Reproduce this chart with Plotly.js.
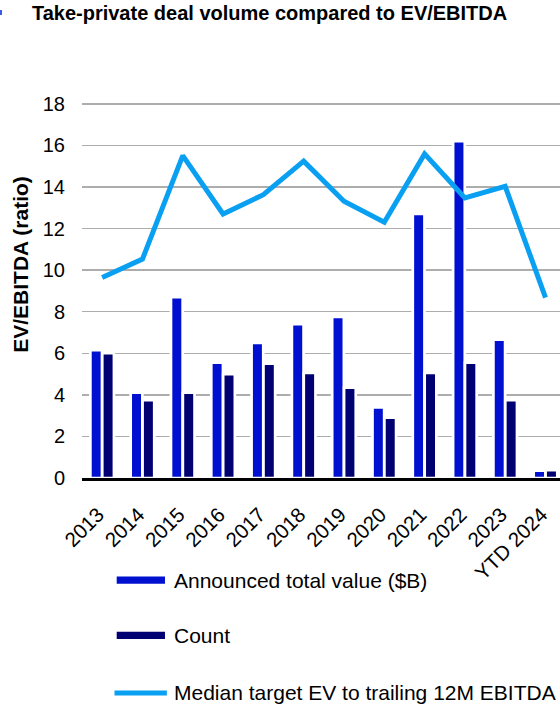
<!DOCTYPE html>
<html>
<head>
<meta charset="utf-8">
<script src="https://cdn.plot.ly/plotly-3.0.1.min.js"></script>
<style>
  html, body { margin: 0; padding: 0; background: #ffffff; overflow: hidden; }
  #chart { width: 560px; height: 704px; }
</style>
</head>
<body>
<div id="chart"></div>
<script>
// Categories and series
const years = ['2013', '2014', '2015', '2016', '2017', '2018', '2019', '2020', '2021', '2022', '2023', 'YTD 2024'];
const announcedValue = [6.15, 4.1, 8.7, 5.55, 6.5, 7.4, 7.75, 3.4, 12.7, 16.2, 6.65, 0.35];
const dealCount = [6.0, 3.75, 4.1, 5.0, 5.5, 5.05, 4.35, 2.9, 5.05, 5.55, 3.75, 0.38];
const medianEvEbitda = [9.64, 10.53, 15.51, 12.7, 13.63, 15.24, 13.31, 12.3, 15.59, 13.47, 14.03, 8.68];

// Axis ticks
const yTicks = [0, 2, 4, 6, 8, 10, 12, 14, 16, 18];

// Series names
const seriesNames = ['Announced total value ($B)', 'Count', 'Median target EV to trailing 12M EBITDA'];

const COLORS = { value: '#0010d0', count: '#000072', ratio: '#0aa0f2' };
const FONT = 'Liberation Sans, Arial, Helvetica, sans-serif';

const traces = [
  {
    type: 'bar', name: seriesNames[0], x: years, y: announcedValue,
    marker: { color: COLORS.value, line: { color: '#ffffff', width: 2.7 } },
    showlegend: false, hoverinfo: 'x+y'
  },
  {
    type: 'bar', name: seriesNames[1], x: years, y: dealCount,
    marker: { color: COLORS.count, line: { color: '#ffffff', width: 2.7 } },
    showlegend: false, hoverinfo: 'x+y'
  },
  {
    type: 'scatter', mode: 'lines', name: seriesNames[2], x: years, y: medianEvEbitda,
    line: { color: COLORS.ratio, width: 5, shape: 'linear' },
    showlegend: false, hoverinfo: 'x+y'
  }
];

// Legend drawn as swatches + labels below the plot
const legendRows = [
  { label: seriesNames[0], kind: 'rect', color: COLORS.value, y: -0.2394 },
  { label: seriesNames[1], kind: 'rect', color: COLORS.count, y: -0.3686 },
  { label: seriesNames[2], kind: 'line', color: COLORS.ratio, y: -0.5035 }
];

const shapes = [];
const annotations = [];
legendRows.forEach(row => {
  if (row.kind === 'rect') {
    shapes.push({
      type: 'rect', xref: 'paper', yref: 'paper',
      x0: 0.0726, x1: 0.1736, y0: row.y - 0.0085, y1: row.y + 0.0085,
      fillcolor: row.color, line: { width: 0 }
    });
  } else {
    shapes.push({
      type: 'line', xref: 'paper', yref: 'paper',
      x0: 0.068, x1: 0.1775, y0: row.y, y1: row.y,
      line: { color: row.color, width: 5 }
    });
  }
  annotations.push({
    xref: 'paper', yref: 'paper', x: 0.1883, y: row.y,
    xanchor: 'left', yanchor: 'middle', showarrow: false,
    text: row.label, font: { family: FONT, size: 21, color: '#000000' }
  });
});

// small bullet before the heading
shapes.push({
  type: 'rect', xref: 'paper', yref: 'paper',
  x0: -0.1716, x1: -0.1674, y0: 1.0845, y1: 1.096,
  fillcolor: '#3c5ae6', line: { width: 0 }
});

const layout = {
  width: 560, height: 704,
  margin: { l: 82, r: 0, t: 51, b: 226 },
  paper_bgcolor: '#ffffff', plot_bgcolor: '#ffffff',
  font: { family: FONT, size: 20, color: '#000000' },
  title: {
    text: '<b>Take-private deal volume compared to EV/EBITDA</b>',
    font: { family: FONT, size: 20, color: '#000000' },
    x: 0.057, xanchor: 'left', xref: 'container',
    y: 0.981, yanchor: 'middle', yref: 'container'
  },
  barmode: 'group', bargap: 0.41, bargroupgap: 0.017,
  xaxis: {
    type: 'category', range: [-0.5, 11.36],
    tickangle: -45, ticks: 'outside', ticklen: 4, tickcolor: 'rgba(0,0,0,0)',
    ticklabelstandoff: 10, ticklabelshift: -4,
    tickfont: { family: FONT, size: 20.5, color: '#000000' },
    showgrid: false, zeroline: false,
    showline: true, linecolor: '#000000', linewidth: 2.5,
    automargin: false, fixedrange: true
  },
  yaxis: {
    range: [0, 20.54], tickmode: 'array', tickvals: yTicks,
    ticktext: yTicks.map(String),
    tickfont: { family: FONT, size: 20, color: '#000000' },
    ticks: '', ticklabelstandoff: 16,
    showgrid: true, gridcolor: '#adadad', gridwidth: 1.5,
    zeroline: false, showline: false,
    title: {
      text: '<b>EV/EBITDA (ratio)</b>',
      font: { family: FONT, size: 21, color: '#000000' },
      standoff: 8
    },
    automargin: false, fixedrange: true
  },
  shapes: shapes,
  annotations: annotations,
  showlegend: false
};

Plotly.newPlot('chart', traces, layout, { staticPlot: true, displayModeBar: false });
</script>
</body>
</html>
